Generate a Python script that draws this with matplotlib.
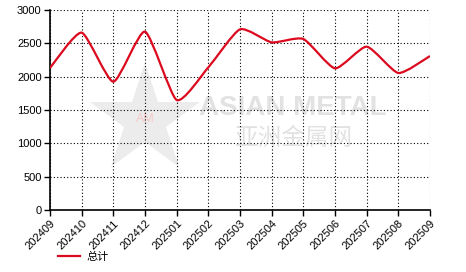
import matplotlib
matplotlib.use("Agg")
import matplotlib.pyplot as plt
from matplotlib.path import Path
from matplotlib.patches import PathPatch

months = ['202409', '202410', '202411', '202412', '202501', '202502', '202503',
          '202504', '202505', '202506', '202507', '202508', '202509']
total = [2130, 2660, 1925, 2675, 1650, 2140, 2710, 2515, 2565, 2125, 2450, 2055, 2310]
yticks = [0, 500, 1000, 1500, 2000, 2500, 3000]

plt.rcParams['font.family'] = ['Liberation Sans', 'DejaVu Sans']

fig = plt.figure(figsize=(4.66, 2.72), dpi=100)
ax = fig.add_axes([50/466, 1-210/272, 380/466, 200/272])

# watermark
ax.plot([0.25], [0.45], marker='*', markersize=84, color='#e8e8e8',
        alpha=0.8, transform=ax.transAxes, zorder=0, markeredgewidth=0)
ax.text(0.25, 0.455, 'AM', transform=ax.transAxes, color='#f7c8c8', fontsize=9,
        ha='center', va='center', zorder=0)
ax.text(0.64, 0.51, 'ASIAN METAL', transform=ax.transAxes, color='#e2e2e2',
        fontsize=20, fontweight='bold', ha='center', va='center', zorder=0)
ax.text(0.642, 0.36, '亚洲金属网', transform=ax.transAxes, color='#e2e2e2',
        fontsize=17, family=['Noto Sans CJK SC'], ha='center', va='center', zorder=0)

# smooth line through the points (Catmull-Rom as cubic Bezier segments)
x = list(range(len(total)))
verts = [(x[0], total[0])]
codes = [Path.MOVETO]
t = 0.1
for i in range(len(x) - 1):
    p0 = (x[i-1], total[i-1]) if i > 0 else (x[i], total[i])
    p1 = (x[i], total[i])
    p2 = (x[i+1], total[i+1])
    p3 = (x[i+2], total[i+2]) if i + 2 < len(x) else p2
    c1 = (p1[0] + (p2[0]-p0[0])*t, p1[1] + (p2[1]-p0[1])*t)
    c2 = (p2[0] - (p3[0]-p1[0])*t, p2[1] - (p3[1]-p1[1])*t)
    verts += [c1, c2, p2]
    codes += [Path.CURVE4] * 3
ax.add_patch(PathPatch(Path(verts, codes), facecolor='none', edgecolor='#dc0a1e',
                       linewidth=1.6, zorder=3))
ax.plot([], [], color='#dc0a1e', linewidth=1.6, label='总计')

ax.set_xlim(0, len(months) - 1)
ax.set_ylim(0, 3000)
ax.set_xticks(x)
ax.set_xticklabels(months, rotation=45, ha='right', va='top', rotation_mode='anchor',
                   fontsize=8)
ax.set_yticks(yticks)
ax.set_yticklabels([str(v) for v in yticks], fontsize=8)
ax.tick_params(length=4, width=1, colors='black', pad=2)
ax.grid(True, color='black', linestyle=(0, (1, 2)), linewidth=0.8)
ax.set_axisbelow(True)
for s in ['top', 'right']:
    ax.spines[s].set_visible(False)
ax.spines['left'].set_linewidth(1.2)
ax.spines['bottom'].set_linewidth(1.2)

fig.legend(loc='lower left', bbox_to_anchor=(48/466, 0.0), frameon=False,
           prop={'family': ['Noto Sans CJK SC'], 'size': 8}, handlelength=2.0,
           handletextpad=0.6)

fig.savefig('out.png', dpi=100)
